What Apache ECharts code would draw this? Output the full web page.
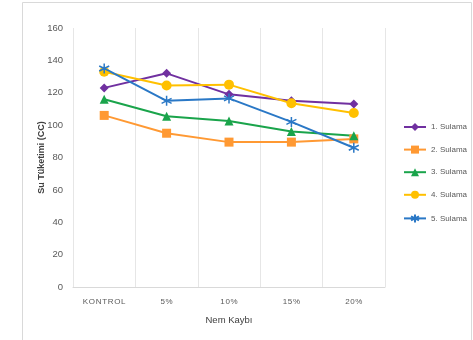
<!DOCTYPE html>
<html>
<head>
<meta charset="utf-8">
<script src="https://cdn.jsdelivr.net/npm/echarts@6/dist/echarts.min.js"></script>
<style>
  html, body { margin: 0; padding: 0; background: #fff; }
  #chart { width: 473px; height: 340px; }
</style>
</head>
<body>
<div id="chart"></div>
<script>
// Water use (CC) by moisture loss level, for five irrigation treatments
const categories = ['KONTROL', '5%', '10%', '15%', '20%'];
const seriesNames = ['1. Sulama', '2. Sulama', '3. Sulama', '4. Sulama', '5. Sulama'];
const sulama1 = [123, 132, 119, 115, 113];
const sulama2 = [106, 95, 89.5, 89.5, 91.5];
const sulama3 = [116, 105.5, 102.5, 96, 93.5];
const sulama4 = [133, 124.5, 125, 113.5, 107.5];
const sulama5 = [135, 115, 116.5, 102, 86];
const yTicks = [0, 20, 40, 60, 80, 100, 120, 140, 160];

const colors = ['#7030a0', '#ff9933', '#1aa44b', '#ffc000', '#2a78c6'];
const symbols = ['diamond', 'rect', 'triangle', 'circle', 'path://M0,-10L0,10M-9,-5L9,5M-9,5L9,-5'];
const symbolSizes = [9, 9, 9, 10, 10];
const values = [sulama1, sulama2, sulama3, sulama4, sulama5];

const font = '"Liberation Sans", sans-serif';
const chart = echarts.init(document.getElementById('chart'));

chart.setOption({
  animation: false,
  backgroundColor: '#ffffff',
  graphic: [{
    type: 'rect',
    shape: { x: 22.5, y: 2.5, width: 449, height: 350 },
    style: { fill: 'none', stroke: '#d9d9d9', lineWidth: 1 },
    silent: true
  }],
  grid: { left: 73, right: 88, top: 28, bottom: 53 },
  legend: {
    orient: 'vertical',
    left: 398,
    top: 118,
    itemWidth: 22,
    itemHeight: 10,
    itemGap: 14.6,
    textStyle: { color: '#595959', fontSize: 8, fontFamily: font },
    data: seriesNames
  },
  xAxis: {
    type: 'category',
    data: categories,
    boundaryGap: true,
    name: 'Nem Kaybı',
    nameLocation: 'middle',
    nameGap: 28,
    nameTextStyle: { color: '#404040', fontSize: 9.5, fontFamily: font },
    axisLine: { lineStyle: { color: '#d9d9d9' } },
    axisTick: { show: false },
    splitLine: { show: true, interval: 0, lineStyle: { color: '#e6e6e6' } },
    axisLabel: {
      interval: 0,
      color: '#595959',
      fontSize: 8,
      fontFamily: font,
      margin: 11,
      formatter: v => v.split('').join('\u200A')
    }
  },
  yAxis: {
    type: 'value',
    min: yTicks[0],
    max: yTicks[yTicks.length - 1],
    interval: 20,
    name: 'Su Tüketimi (CC)',
    nameLocation: 'middle',
    nameGap: 27,
    nameRotate: 90,
    nameMoveOverlap: false,
    nameTextStyle: { color: '#404040', fontSize: 9, fontWeight: 'bold', fontFamily: font },
    axisLine: { show: false },
    axisTick: { show: false },
    splitLine: { show: false },
    axisLabel: { color: '#595959', fontSize: 9.5, fontFamily: font, margin: 10 }
  },
  series: seriesNames.map((name, i) => ({
    name,
    type: 'line',
    data: values[i],
    color: colors[i],
    symbol: symbols[i],
    symbolSize: symbolSizes[i],
    lineStyle: { width: 2, color: colors[i] },
    itemStyle: i === 4
      ? { color: colors[i], borderColor: colors[i], borderWidth: 1.5 }
      : { color: colors[i] }
  }))
});
</script>
</body>
</html>
